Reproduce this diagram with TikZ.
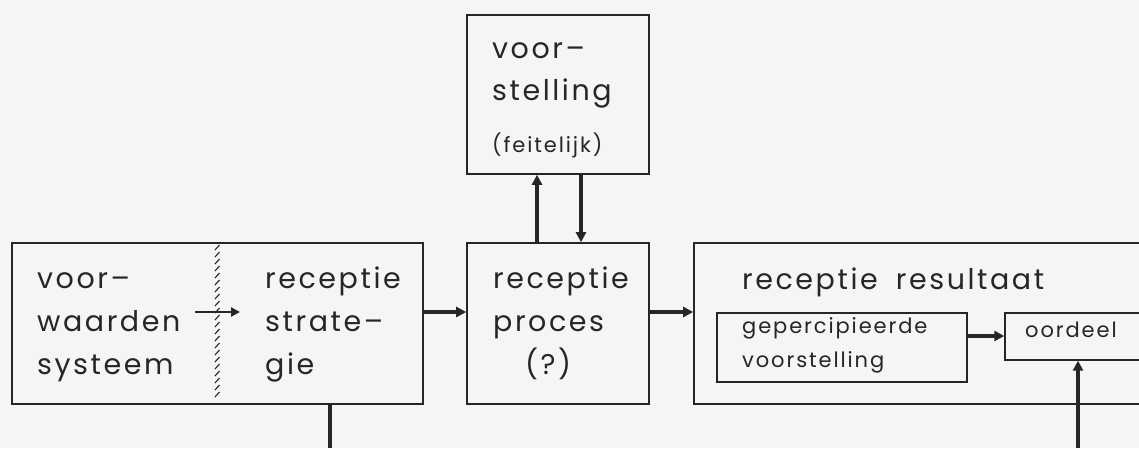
\documentclass[tikz,border=0pt]{standalone}
\usepackage{fontspec}
\setmainfont{Poppins}[LetterSpace=9]
\usetikzlibrary{arrows.meta}
\definecolor{ink}{HTML}{262626}
\definecolor{paper}{HTML}{F5F5F5}
\begin{document}
\begin{tikzpicture}[x=1pt,y=-1pt,
  box/.style={draw=ink,line width=1.6pt,rectangle,inner sep=0pt},
  lbl/.style={anchor=base west,inner sep=0pt,text=ink,font=\fontsize{28.5}{28.5}\selectfont},
  small/.style={anchor=base west,inner sep=0pt,text=ink,font=\fontsize{21}{21}\selectfont},
  conn/.style={draw=ink,line width=3.2pt},
  arr/.style={conn,-{Triangle[length=10pt,width=10pt]}},
  thinarr/.style={draw=ink,line width=2.6pt,-{Triangle[length=9pt,width=9pt]}}]
\fill[paper] (0,0) rectangle (1139,448);
\clip (0,0) rectangle (1139,448);
% boxes
\node[box,minimum width=411pt,minimum height=161pt] (lbox) at (217.5,323.5) {};
\node[box,minimum width=182pt,minimum height=159pt] (top) at (558,94.5) {};
\node[box,minimum width=182pt,minimum height=161pt] (proc) at (558,323.5) {};
\node[box,minimum width=456pt,minimum height=161pt] (res) at (922,323.5) {};
\node[box,line width=1.4pt,minimum width=250pt,minimum height=69pt] (perc) at (842,347.5) {};
\node[box,line width=1.4pt,minimum width=145pt,minimum height=47pt] (oord) at (1077.5,336.5) {};
% divider
\foreach \yy in {245,252,...,398}
  \draw[ink,line width=1.1pt] (219.5,\yy) -- (215,\yy+5);
% texts
\node[lbl] (t1a) at (37,288) {voor--};
\node[lbl] (t1b) at (37,331) {waarden};
\node[lbl] (t1c) at (37,374) {systeem};
\node[lbl] (t2a) at (265,288) {receptie};
\node[lbl] (t2b) at (265,331) {strate--};
\node[lbl] (t2c) at (265,374) {gie};
\node[lbl] (t3a) at (492,58) {voor--};
\node[lbl] (t3b) at (492,100) {stelling};
\node[small] (t3c) at (492,152) {(feitelijk)};
\node[lbl] (t4a) at (493,288) {receptie};
\node[lbl] (t4b) at (493,331) {proces};
\node[lbl] (t4c) at (525,374) {(?)};
\node[lbl] (t5) at (742,289) {receptie\hspace{8pt} resultaat};
\node[small] (t6a) at (742,333) {gepercipieerde};
\node[small] (t6b) at (742,367) {voorstelling};
\node[small] (t7) at (1025,337) {oordeel};
% connectors
\coordinate (bl) at (330,448);
\coordinate (br) at (1078,448);
\draw[thinarr] (195,312) -- (240,312);
\draw[arr] (lbox.east |- 0,312) -- (proc.west |- 0,312);
\draw[arr] (proc.east |- 0,312) -- (res.west |- 0,312);
\draw[arr] (proc.north -| 537,0) -- (top.south -| 537,0);
\draw[arr] (top.south -| 581,0) -- (proc.north -| 581,0);
\draw[arr] (perc.east |- 0,336) -- (oord.west |- 0,336);
\draw[arr] (br) -- (oord.south -| br);
\draw[conn] (lbox.south -| bl) -- (bl);
\end{tikzpicture}
\end{document}
